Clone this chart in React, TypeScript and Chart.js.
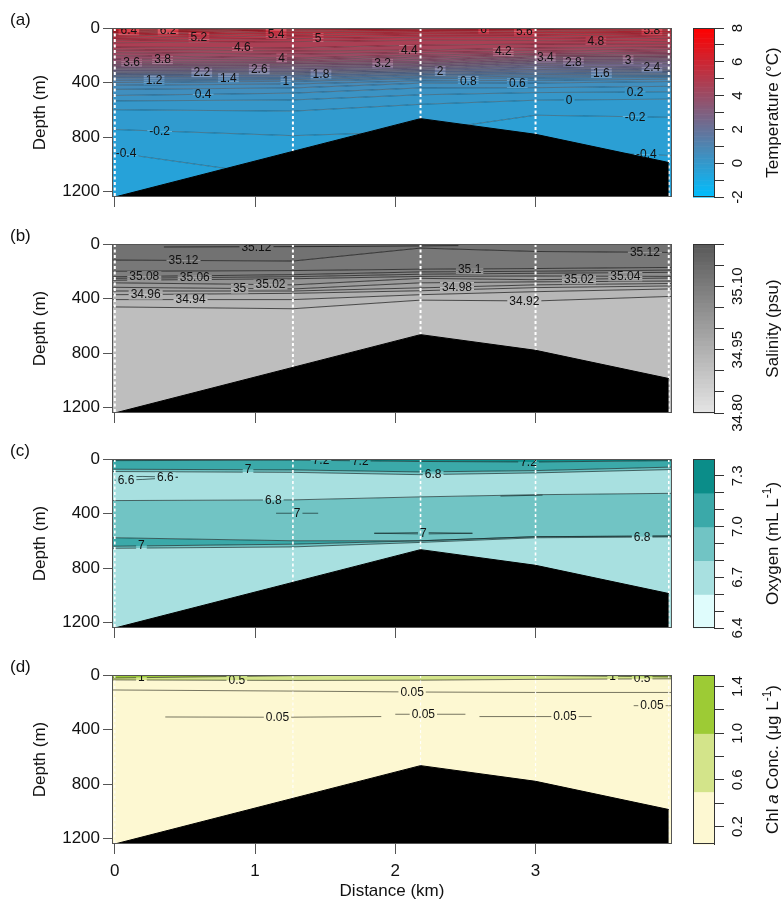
import { useEffect, useRef } from "react";
import { Chart, registerables } from "chart.js";

Chart.register(...registerables);

const FONT = "'Liberation Sans', Arial, Helvetica, sans-serif";
Chart.defaults.font.family = FONT;
Chart.defaults.color = "#111";

// ---------- shared section data ----------
const X_MIN = -0.02;
const X_MAX = 3.973;
const DEPTH_MAX = 1240;
const stationKm = [0, 1.27, 2.18, 3.0, 3.95];
const bathyKm = [0, 2.18, 3.0, 3.95];
const bathyDepth = [1240, 665, 780, 987];
const distanceTicks = [0, 1, 2, 3];
const depthTicks = [0, 400, 800, 1200];

// ---------- (a) temperature ----------
const tempLevels = [6.4, 6.2, 6.0, 5.8, 5.6, 5.4, 5.2, 5.0, 4.8, 4.6, 4.4, 4.2, 4.0, 3.8, 3.6, 3.4, 3.2, 3.0, 2.8, 2.6, 2.4, 2.2, 2.0, 1.8, 1.6, 1.4, 1.2, 1.0, 0.8, 0.6, 0.4, 0.2, 0.0, -0.2, -0.4];
const tempDepths = [
  [15, 0, 0, 0, 0],
  [22, 3, 0, 0, 2],
  [30, 10, 5, 8, 10],
  [38, 18, 12, 16, 20],
  [48, 28, 22, 25, 32],
  [58, 42, 35, 38, 45],
  [74, 58, 50, 52, 60],
  [90, 78, 68, 70, 78],
  [108, 100, 90, 92, 100],
  [140, 146, 125, 118, 120],
  [160, 168, 162, 146, 140],
  [180, 192, 180, 170, 158],
  [202, 220, 198, 186, 175],
  [228, 234, 214, 198, 190],
  [248, 246, 230, 208, 202],
  [262, 257, 245, 217, 212],
  [274, 267, 257, 230, 222],
  [286, 277, 267, 241, 233],
  [297, 289, 279, 251, 246],
  [307, 302, 289, 262, 262],
  [317, 314, 299, 275, 292],
  [327, 325, 309, 289, 305],
  [337, 334, 318, 304, 314],
  [347, 342, 328, 317, 323],
  [357, 354, 338, 329, 333],
  [368, 367, 348, 341, 343],
  [384, 379, 360, 354, 353],
  [400, 391, 372, 367, 363],
  [420, 411, 388, 384, 376],
  [450, 440, 405, 404, 393],
  [495, 478, 440, 438, 428],
  [535, 528, 490, 474, 468],
  [600, 610, 560, 530, 522],
  [745, 790, 760, 640, 655],
  [915, 1100, 1000, 900, 935],
];
const tempLabels: [string, number, number][] = [
  ["6.4", 0.1, 16], ["6.2", 0.38, 17], ["5.2", 0.6, 67], ["5.4", 1.15, 44], ["5", 1.45, 76],
  ["4.6", 0.91, 144], ["4", 1.19, 218], ["3.6", 0.12, 248], ["3.8", 0.34, 230], ["2.2", 0.62, 326],
  ["2.6", 1.03, 303], ["1.4", 0.81, 368], ["1.2", 0.28, 383], ["1", 1.22, 391], ["1.8", 1.47, 339],
  ["3.2", 1.91, 260], ["0.4", 0.63, 487], ["-0.2", 0.32, 756], ["-0.4", 0.08, 919], ["6", 2.63, 7],
  ["5.6", 2.92, 25], ["5.8", 3.83, 19], ["4.4", 2.1, 162], ["4.2", 2.77, 173], ["4.8", 3.43, 96],
  ["3.4", 3.07, 217], ["2.8", 3.27, 250], ["3", 3.66, 236], ["2.4", 3.83, 289], ["2", 2.32, 316],
  ["1.6", 3.47, 331], ["0.8", 2.52, 387], ["0.6", 2.87, 404], ["0.2", 3.71, 470], ["0", 3.24, 528],
  ["-0.2", 3.71, 651], ["-0.4", 3.79, 929],
];
const tempBarTicks = [-2, -1, 0, 1, 2, 3, 4, 5, 6, 7, 8];
const tempBarLabels = [-2, 0, 2, 4, 6, 8];

// ---------- (b) salinity ----------
const salLevels = [35.12, 35.1, 35.08, 35.06, 35.04, 35.02, 35.0, 34.98, 34.96, 34.94, 34.92];
const salDepths = [
  [118, 125, 30, 55, 62],
  [200, 195, 185, 180, 172],
  [240, 225, 205, 200, 192],
  [252, 240, 222, 215, 208],
  [266, 255, 238, 235, 238],
  [285, 300, 252, 262, 250],
  [318, 330, 285, 278, 272],
  [345, 345, 322, 300, 290],
  [372, 362, 343, 320, 308],
  [408, 408, 372, 350, 330],
  [462, 475, 412, 418, 385],
];
const salExtraLines = [
  [{ x: 0.35, y: 22 }, { x: 1.6, y: 18 }, { x: 2.45, y: 12 }],
];
const salLabels: [string, number, number][] = [
  ["35.12", 1.01, 20], ["35.12", 0.49, 120], ["35.08", 0.21, 237], ["35.06", 0.57, 247],
  ["35", 0.89, 326], ["35.02", 1.11, 298], ["34.96", 0.22, 371], ["34.94", 0.54, 408],
  ["35.12", 3.78, 59], ["35.1", 2.53, 183], ["35.02", 3.31, 258], ["35.04", 3.64, 237],
  ["34.98", 2.44, 314], ["34.92", 2.92, 418],
];
const salBarTicks = [34.8, 34.85, 34.9, 34.95, 35.0, 35.05, 35.1, 35.15, 35.2];
const salBarLabels = [34.8, 34.95, 35.1];

// ---------- (c) oxygen ----------
const oxyBandEdges = [6.4, 6.6, 6.8, 7.0, 7.2, 7.4];
const oxyBandColors = ["#dffcfc", "#a8e0e0", "#71c4c4", "#3ba9a9", "#0b8d89"];
const oxyDepths = [
  [12, 8, 18, 22, 12],
  [75, 80, 95, 85, 60],
  [92, 98, 115, 102, 78],
  [305, 300, 278, 262, 252],
  [578, 600, 600, 570, 565],
  [640, 625, 600, 570, 565],
  [655, 645, 612, 578, 572],
];
const oxyBandValues = [7.3, 7.1, 6.9, 6.7, 6.9, 7.1, 6.9, 6.7];
const oxyExtraLines = [
  [{ x: 0, y: 132 }, { x: 0.2, y: 128 }, { x: 0.45, y: 134 }, { x: 0.2, y: 150 }, { x: 0, y: 156 }],
  [{ x: 1.15, y: 398 }, { x: 1.45, y: 398 }],
  [{ x: 1.85, y: 545 }, { x: 2.2, y: 540 }, { x: 2.55, y: 545 }, { x: 2.2, y: 550 }, { x: 1.85, y: 545 }],
  [{ x: 2.75, y: 272 }, { x: 3.05, y: 265 }],
];
const oxyLabels: [string, number, number][] = [
  ["7.2", 1.47, 12], ["7.2", 1.75, 18], ["7.2", 2.95, 22], ["7", 0.95, 78], ["6.8", 2.27, 114],
  ["6.6", 0.08, 152], ["6.6", 0.36, 136], ["6.8", 1.13, 301], ["7", 1.3, 398], ["7", 0.19, 636],
  ["7", 2.2, 545], ["6.8", 3.76, 573],
];
const oxyBarTicks = [6.4, 6.5, 6.6, 6.7, 6.8, 6.9, 7.0, 7.1, 7.2, 7.3];
const oxyBarLabels = [6.4, 6.7, 7.0, 7.3];

// ---------- (d) chlorophyll a ----------
const chlBandEdges = [0.05, 0.5, 1.0, 1.5];
const chlBandColors = ["#fdf8d2", "#d3e48a", "#9dcb35"];
const chlDepths = [
  [22, 5, 0, 3, 14],
  [36, 40, 38, 32, 28],
];
const chlBandValues = [1.25, 0.75, 0.3];
const chlExtraLines = [
  [{ x: X_MIN, y: 110 }, { x: 0, y: 110 }, { x: 1.27, y: 118 }, { x: 2.18, y: 125 }, { x: 3.0, y: 128 }, { x: 3.95, y: 128 }, { x: X_MAX, y: 128 }],
  [{ x: 0.36, y: 308 }, { x: 1.2, y: 310 }, { x: 1.9, y: 305 }],
  [{ x: 2.0, y: 288 }, { x: 2.5, y: 288 }],
  [{ x: 2.6, y: 305 }, { x: 3.4, y: 305 }],
  [{ x: 3.7, y: 225 }, { x: X_MAX, y: 225 }],
];
const chlLabels: [string, number, number][] = [
  ["1", 0.19, 19], ["0.5", 0.87, 39], ["0.05", 2.12, 124], ["0.05", 1.16, 310], ["0.05", 2.2, 290],
  ["0.05", 3.21, 305], ["0.05", 3.83, 225], ["1", 3.55, 12], ["0.5", 3.76, 26],
];
const chlBarTicks = [0.2, 0.4, 0.6, 0.8, 1.0, 1.2, 1.4];
const chlBarLabels = [0.2, 0.6, 1.0, 1.4];

// ---------- colour helpers (style) ----------
function tempColor(v: number) {
  const t = Math.max(0, Math.min(1, (v + 2) / 10));
  return `rgb(${Math.round(255 * t)},${Math.round(191 * (1 - t))},${Math.round(255 * (1 - t))})`;
}
function salColor(v: number) {
  const t = Math.max(0, Math.min(1, (v - 34.8) / 0.4));
  const g = Math.round(229 - 140 * t);
  return `rgb(${g},${g},${g})`;
}
function bandLookup(edges: number[], colors: string[], v: number) {
  for (let i = 0; i < colors.length; i++) if (v >= edges[i] && v <= edges[i + 1]) return colors[i];
  return colors[colors.length - 1];
}

type Seg = { t: string; italic?: boolean; sup?: boolean };
type Band = [number, number, string];

interface PanelSpec {
  tag: string;
  top: number;
  height: number;
  xAxisHeight: number;
  showX: boolean;
  contours: number[][];
  bandFill: string[];
  extraLines: { x: number; y: number }[][];
  labels: [string, number, number][];
  lineColor: string;
  lineWidth: number;
  stationWidth: number;
  stationColor: string;
  barMin: number;
  barMax: number;
  barTicks: number[];
  barLabels: number[];
  barDigits: number;
  barBands: Band[];
  barTitle: Seg[];
}

const tempBarBands: Band[] = [];
for (let i = 0; i < 100; i++) {
  const v = -2 + i * 0.1;
  tempBarBands.push([v, v + 0.1, tempColor(v + 0.05)]);
}
const salBarBands: Band[] = [];
for (let i = 0; i < 40; i++) {
  const v = 34.8 + i * 0.01;
  salBarBands.push([v, v + 0.01, salColor(v + 0.005)]);
}

const panels: PanelSpec[] = [
  {
    tag: "(a)", top: 0, height: 216, xAxisHeight: 19, showX: false,
    contours: tempDepths,
    bandFill: [tempColor(tempLevels[0] + 0.1), ...tempLevels.map((l) => tempColor(l - 0.1))],
    extraLines: [],
    labels: tempLabels,
    lineColor: "rgba(0,0,0,0.55)",
    lineWidth: 0.6,
    stationWidth: 2,
    stationColor: "#ffffff",
    barMin: -2, barMax: 8, barTicks: tempBarTicks, barLabels: tempBarLabels, barDigits: 0,
    barBands: tempBarBands,
    barTitle: [{ t: "Temperature (°C)" }],
  },
  {
    tag: "(b)", top: 216, height: 215, xAxisHeight: 18, showX: false,
    contours: salDepths,
    bandFill: [salColor(salLevels[0] + 0.01), ...salLevels.map((l) => salColor(l - 0.01))],
    extraLines: salExtraLines,
    labels: salLabels,
    lineColor: "rgba(10,10,10,0.85)",
    lineWidth: 0.8,
    stationWidth: 2,
    stationColor: "#ffffff",
    barMin: 34.8, barMax: 35.2, barTicks: salBarTicks, barLabels: salBarLabels, barDigits: 2,
    barBands: salBarBands,
    barTitle: [{ t: "Salinity (psu)" }],
  },
  {
    tag: "(c)", top: 431, height: 216, xAxisHeight: 19, showX: false,
    contours: oxyDepths,
    bandFill: oxyBandValues.map((v) => bandLookup(oxyBandEdges, oxyBandColors, v)),
    extraLines: oxyExtraLines,
    labels: oxyLabels,
    lineColor: "rgba(20,40,40,0.85)",
    lineWidth: 0.8,
    stationWidth: 1.6,
    stationColor: "#ffffff",
    barMin: 6.4, barMax: 7.4, barTicks: oxyBarTicks, barLabels: oxyBarLabels, barDigits: 1,
    barBands: oxyBandColors.map((c, i) => [oxyBandEdges[i], oxyBandEdges[i + 1], c] as Band),
    barTitle: [{ t: "Oxygen (mL L" }, { t: "-1", sup: true }, { t: ")" }],
  },
  {
    tag: "(d)", top: 647, height: 258, xAxisHeight: 61, showX: true,
    contours: chlDepths,
    bandFill: chlBandValues.map((v) => bandLookup(chlBandEdges, chlBandColors, v)),
    extraLines: chlExtraLines,
    labels: chlLabels,
    lineColor: "rgba(30,30,20,0.75)",
    lineWidth: 0.8,
    stationWidth: 1.2,
    stationColor: "rgba(255,255,255,0.9)",
    barMin: 0.05, barMax: 1.5, barTicks: chlBarTicks, barLabels: chlBarLabels, barDigits: 1,
    barBands: chlBandColors.map((c, i) => [chlBandEdges[i], chlBandEdges[i + 1], c] as Band),
    barTitle: [{ t: "Chl " }, { t: "a", italic: true }, { t: " Conc. (μg L" }, { t: "-1", sup: true }, { t: ")" }],
  },
];

function pts(d: number[]) {
  return [
    { x: X_MIN, y: d[0] },
    ...stationKm.map((x, i) => ({ x, y: d[i] })),
    { x: X_MAX, y: d[d.length - 1] },
  ];
}

function drawRotatedRich(ctx: CanvasRenderingContext2D, segs: Seg[], cx: number, cy: number, size: number) {
  ctx.save();
  ctx.translate(cx, cy);
  ctx.rotate(-Math.PI / 2);
  const fontFor = (s: Seg) => `${s.italic ? "italic " : ""}${s.sup ? Math.round(size * 0.7) : size}px ${FONT}`;
  let total = 0;
  const widths = segs.map((s) => {
    ctx.font = fontFor(s);
    const w = ctx.measureText(s.t).width;
    total += w;
    return w;
  });
  let x = -total / 2;
  ctx.textAlign = "left";
  ctx.textBaseline = "alphabetic";
  ctx.fillStyle = "#111";
  segs.forEach((s, i) => {
    ctx.font = fontFor(s);
    ctx.fillText(s.t, x, s.sup ? size * 0.35 - size * 0.42 : size * 0.35);
    x += widths[i];
  });
  ctx.restore();
}

function sectionPlugin(p: PanelSpec) {
  const labelRects = (chart: any) => {
    const ctx: CanvasRenderingContext2D = chart.ctx;
    const xs = chart.scales.x;
    const ys = chart.scales.y;
    ctx.save();
    ctx.font = `12px ${FONT}`;
    const r = p.labels.map(([t, km, m]) => ({
      t,
      x: xs.getPixelForValue(km),
      y: ys.getPixelForValue(m),
      w: ctx.measureText(t).width,
    }));
    ctx.restore();
    return r;
  };
  return {
    id: "section" + p.tag,
    beforeDatasetDraw(chart: any, args: any) {
      const ds = chart.data.datasets[args.index];
      if (!ds.contour) return;
      const ctx: CanvasRenderingContext2D = chart.ctx;
      const rects = labelRects(chart);
      ctx.save();
      ctx.beginPath();
      ctx.rect(0, 0, chart.width, chart.height);
      rects.forEach((r: any) => ctx.rect(r.x - r.w / 2 - 2, r.y - 5, r.w + 4, 10));
      ctx.clip("evenodd");
    },
    afterDatasetDraw(chart: any, args: any) {
      const ds = chart.data.datasets[args.index];
      if (ds.contour) chart.ctx.restore();
    },
    afterDatasetsDraw(chart: any) {
      const ctx: CanvasRenderingContext2D = chart.ctx;
      const a = chart.chartArea;
      ctx.save();
      ctx.beginPath();
      ctx.rect(a.left, a.top, a.right - a.left, a.bottom - a.top);
      ctx.clip();
      ctx.font = `12px ${FONT}`;
      ctx.fillStyle = "#111";
      ctx.textAlign = "center";
      ctx.textBaseline = "middle";
      labelRects(chart).forEach((r: any) => ctx.fillText(r.t, r.x, r.y + 0.5));
      ctx.restore();
      ctx.save();
      ctx.strokeStyle = "#555";
      ctx.lineWidth = 1;
      ctx.strokeRect(Math.round(a.left) + 0.5, Math.round(a.top) + 0.5, Math.round(a.right - a.left) - 1, Math.round(a.bottom - a.top) - 1);
      ctx.restore();
    },
    afterDraw(chart: any) {
      const ctx: CanvasRenderingContext2D = chart.ctx;
      const a = chart.chartArea;
      const cb = chart.scales.cbar;
      const right = cb.left;
      const left = right - 21;
      ctx.save();
      p.barBands.forEach(([from, to, color]) => {
        const y0 = cb.getPixelForValue(from);
        const y1 = cb.getPixelForValue(to);
        ctx.fillStyle = color;
        ctx.fillRect(left, Math.min(y0, y1), right - left, Math.abs(y0 - y1) + 0.6);
      });
      ctx.strokeStyle = "#333";
      ctx.lineWidth = 1;
      ctx.strokeRect(Math.round(left) + 0.5, Math.round(cb.top) + 0.5, Math.round(right - left), Math.round(cb.bottom - cb.top) - 1);
      ctx.fillStyle = "#111";
      ctx.font = `15px ${FONT}`;
      ctx.textAlign = "center";
      ctx.textBaseline = "middle";
      p.barLabels.forEach((v) => {
        const y = cb.getPixelForValue(v);
        ctx.save();
        ctx.translate(cb.left + 23.5, y);
        ctx.rotate(-Math.PI / 2);
        ctx.fillText(v.toFixed(p.barDigits), 0, 0);
        ctx.restore();
      });
      drawRotatedRich(ctx, p.barTitle, cb.left + 58, (cb.top + cb.bottom) / 2, 17);
      ctx.font = `17px ${FONT}`;
      ctx.textAlign = "left";
      ctx.textBaseline = "middle";
      ctx.fillStyle = "#111";
      ctx.fillText(p.tag, 10, a.top - 8);
      ctx.restore();
    },
  };
}

function buildConfig(p: PanelSpec): any {
  const datasets: any[] = [];
  const hidden = { borderColor: "rgba(0,0,0,0)", borderWidth: 0, pointRadius: 0 };
  datasets.push({ ...hidden, data: pts(stationKm.map(() => 0)), fill: false, order: 5 });
  p.contours.forEach((d, i) =>
    datasets.push({ ...hidden, data: pts(d), fill: "-1", backgroundColor: p.bandFill[i], order: 5 })
  );
  datasets.push({
    ...hidden,
    data: pts(stationKm.map(() => DEPTH_MAX)),
    fill: "-1",
    backgroundColor: p.bandFill[p.contours.length],
    order: 5,
  });
  p.contours.forEach((d) =>
    datasets.push({ data: pts(d), borderColor: p.lineColor, borderWidth: p.lineWidth, fill: false, pointRadius: 0, order: 4, contour: true })
  );
  p.extraLines.forEach((l) =>
    datasets.push({ data: l, borderColor: p.lineColor, borderWidth: p.lineWidth, fill: false, pointRadius: 0, order: 4, contour: true })
  );
  stationKm.forEach((x) =>
    datasets.push({
      data: [{ x, y: 0 }, { x, y: DEPTH_MAX }],
      borderColor: p.stationColor,
      borderWidth: p.stationWidth,
      borderDash: [3, 2.5],
      fill: false,
      pointRadius: 0,
      order: 3,
    })
  );
  datasets.push({
    data: bathyKm.map((x, i) => ({ x, y: bathyDepth[i] })),
    borderColor: "#000",
    borderWidth: 1,
    backgroundColor: "#000",
    fill: { value: DEPTH_MAX },
    pointRadius: 0,
    order: 1,
  });

  const axisGrid = { drawOnChartArea: false, drawTicks: true, color: "#555", lineWidth: 1 };

  return {
    type: "line",
    data: { datasets },
    options: {
      animation: false,
      responsive: false,
      events: [],
      layout: { padding: { top: 28, left: 0, right: 0, bottom: 0 } },
      elements: { line: { tension: 0 }, point: { radius: 0 } },
      plugins: { legend: { display: false }, tooltip: { enabled: false }, title: { display: false } },
      scales: {
        x: {
          type: "linear",
          position: "bottom",
          min: X_MIN,
          max: X_MAX,
          afterBuildTicks: (s: any) => { s.ticks = distanceTicks.map((v) => ({ value: v })); },
          afterFit: (s: any) => { s.height = p.xAxisHeight; },
          grid: { ...axisGrid, tickLength: 10 },
          border: { display: false },
          ticks: { display: p.showX, padding: 7, autoSkip: false, maxRotation: 0, font: { size: 17 }, color: "#111", callback: (v: any) => String(v) },
          title: { display: p.showX, text: "Distance (km)", font: { size: 17 }, color: "#111", padding: { top: 0, bottom: 3 } },
        },
        y: {
          type: "linear",
          position: "left",
          reverse: true,
          min: 0,
          max: DEPTH_MAX,
          afterBuildTicks: (s: any) => { s.ticks = depthTicks.map((v) => ({ value: v })); },
          afterFit: (s: any) => { s.width = 112; },
          grid: { ...axisGrid, tickLength: 9 },
          border: { display: false },
          ticks: { padding: 3, font: { size: 17 }, color: "#111", callback: (v: any) => String(v) },
          title: { display: true, text: "Depth (m)", font: { size: 17 }, color: "#111", padding: { top: 30, bottom: 0 } },
        },
        gapR: {
          type: "linear",
          position: "right",
          weight: 0,
          display: true,
          grid: { display: false },
          ticks: { display: false },
          border: { display: false },
          afterFit: (s: any) => { s.width = 42; },
        },
        cbar: {
          type: "linear",
          position: "right",
          weight: 1,
          min: p.barMin,
          max: p.barMax,
          afterBuildTicks: (s: any) => { s.ticks = p.barTicks.map((v) => ({ value: v })); },
          afterFit: (s: any) => { s.width = 69; },
          grid: { drawOnChartArea: false, drawTicks: true, tickLength: 10, color: "#333", lineWidth: 1 },
          border: { display: true, color: "#333" },
          ticks: { display: false },
        },
      },
    },
    plugins: [sectionPlugin(p)],
  };
}

function SectionPanel({ p }: { p: PanelSpec }) {
  const ref = useRef<HTMLCanvasElement>(null);
  useEffect(() => {
    const canvas = ref.current;
    if (!canvas) return;
    const chart = new Chart(canvas, buildConfig(p));
    return () => chart.destroy();
  }, [p]);
  return (
    <canvas
      ref={ref}
      width={783}
      height={p.height}
      style={{ position: "absolute", left: 0, top: p.top, width: 783, height: p.height, display: "block" }}
    />
  );
}

export default function App() {
  return (
    <div style={{ position: "absolute", left: 0, top: 0, width: 783, height: 905, background: "#fff", overflow: "hidden" }}>
      {panels.map((p) => (
        <SectionPanel key={p.tag} p={p} />
      ))}
    </div>
  );
}
